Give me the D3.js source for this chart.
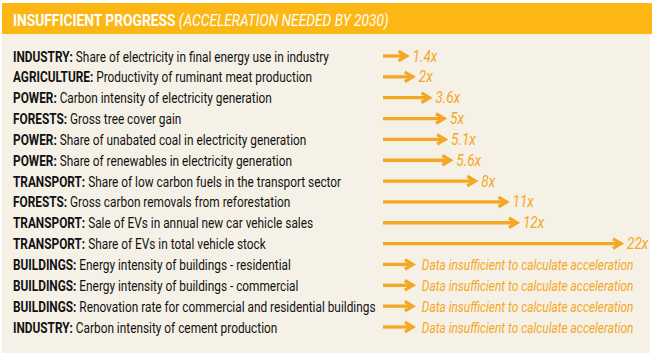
<!DOCTYPE html>
<html><head><meta charset="utf-8">
<script src="https://cdn.jsdelivr.net/npm/d3@7"></script>
<style>
html,body{margin:0;padding:0;background:#fff;}
svg{display:block;}
</style></head>
<body>
<svg id="chart" width="654" height="359"></svg>
<script>
const sectors = ["INDUSTRY","AGRICULTURE","POWER","FORESTS","POWER","POWER","TRANSPORT","FORESTS","TRANSPORT","TRANSPORT","BUILDINGS","BUILDINGS","BUILDINGS","INDUSTRY"];
const indicators = [
 "Share of electricity in final energy use in industry",
 "Productivity of ruminant meat production",
 "Carbon intensity of electricity generation",
 "Gross tree cover gain",
 "Share of unabated coal in electricity generation",
 "Share of renewables in electricity generation",
 "Share of low carbon fuels in the transport sector",
 "Gross carbon removals from reforestation",
 "Sale of EVs in annual new car vehicle sales",
 "Share of EVs in total vehicle stock",
 "Energy intensity of buildings - residential",
 "Energy intensity of buildings - commercial",
 "Renovation rate for commercial and residential buildings",
 "Carbon intensity of cement production"];
const acceleration = [1.4, 2, 3.6, 5, 5.1, 5.6, 8, 11, 12, 22, null, null, null, null];
const valueLabels = ["1.4x","2x","3.6x","5x","5.1x","5.6x","8x","11x","12x","22x",
 "Data insufficient to calculate acceleration","Data insufficient to calculate acceleration",
 "Data insufficient to calculate acceleration","Data insufficient to calculate acceleration"];
const titleBold = "INSUFFICIENT PROGRESS";
const titleItalic = "(ACCELERATION NEEDED BY 2030)";
const insufficientPlaceholder = 2;

const svg = d3.select("#chart");
const ORANGE = "#f4a724";
const FONT = "'Roboto','Liberation Sans',sans-serif";
const K = 0.85;   // horizontal condensing (values)
const KT = 0.835; // horizontal condensing (title)
const KL = 0.79;  // horizontal condensing (row labels)

svg.append("rect").attr("x",2).attr("y",3).attr("width",648).attr("height",350).attr("fill","#f6f1e7");
svg.append("rect").attr("x",2).attr("y",3).attr("width",650).attr("height",31).attr("fill","#fdb714");

const title = svg.append("text").attr("transform",`translate(13,25.5) scale(${KT},1)`).attr("fill","#fff")
  .style("font-family",FONT).style("font-size","16.5px");
title.append("tspan").attr("font-weight","bold").text(titleBold + " ");
title.append("tspan").attr("font-style","italic").text(titleItalic);

const y = d3.scalePoint().domain(d3.range(indicators.length)).range([56, 327]);
const x = d3.scaleLinear().domain([0, 22]).range([392, 621]);
const x0 = 383;

const rows = svg.append("g").selectAll("g").data(indicators).join("g")
  .attr("transform",(d,i)=>`translate(0,${y(i)})`);

const lab = rows.append("text").attr("transform",`translate(13,5.5) scale(${KL},1)`)
  .style("font-family",FONT).style("font-size","15px").attr("fill","#111");
lab.append("tspan").attr("font-weight","bold").text((d,i)=>sectors[i]+": ");
lab.append("tspan").text(d=>d);

rows.each(function(d,i){
  const g = d3.select(this);
  const missing = acceleration[i] == null;
  const v = missing ? insufficientPlaceholder : acceleration[i];
  const xe = x(v);
  g.append("line").attr("x1",x0).attr("x2",xe-3).attr("y1",0).attr("y2",0)
   .attr("stroke",ORANGE).attr("stroke-width",3.3);
  g.append("path").attr("d",`M${xe-8},-4.8 L${xe},0 L${xe-8},4.8`).attr("fill","none")
   .attr("stroke",ORANGE).attr("stroke-width",3.3).attr("stroke-linejoin","miter");
  g.append("text").attr("transform",`translate(${xe + (missing ? 9 : 6)},5.5) scale(${K},1)`)
   .style("font-family",FONT).style("font-size", missing ? "14px" : "16px")
   .attr("font-style","italic").attr("fill",ORANGE).text(valueLabels[i]);
});
</script>
</body></html>
